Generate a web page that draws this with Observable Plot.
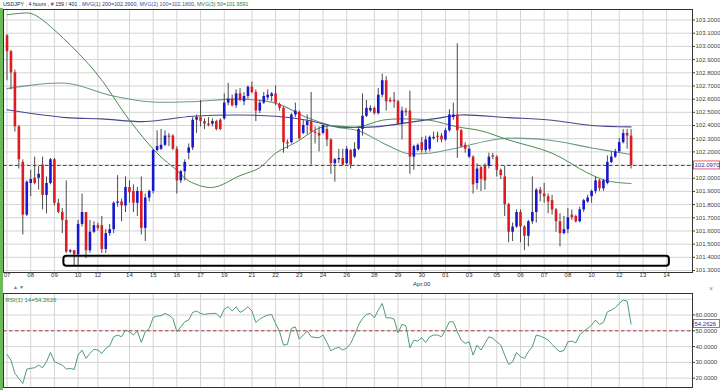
<!DOCTYPE html>
<html>
<head>
<meta charset="utf-8">
<script src="https://cdn.jsdelivr.net/npm/d3@7"></script>
<script src="https://cdn.jsdelivr.net/npm/@observablehq/plot@0.6"></script>
<style>
html,body{margin:0;padding:0;background:#fff;}
#root{position:relative;width:720px;height:390px;overflow:hidden;background:#fff;font-family:"Liberation Sans",Arial,sans-serif;}
#title{position:absolute;left:3px;top:0;height:9px;font-size:5.35px;line-height:8px;white-space:nowrap;color:#1c2340;}
#main{position:absolute;left:0;top:9px;}
#rsi{position:absolute;left:0;top:290px;}
#gbar{position:absolute;left:0;top:8px;width:2.5px;height:382px;background:#6cba5a;}
#arrows{position:absolute;left:13px;top:284px;font-size:5px;line-height:6px;color:#6b7280;letter-spacing:1px}
#close{position:absolute;left:709px;top:285px;font-size:7px;line-height:7px;color:#888}
</style>
</head>
<body>
<div id="root">
<div id="title"><span>USDJPY , 4 hours , # 159 / 401 , </span><span style="color:#2d3a9a">MVG(1) 200=102.3900</span><span>, </span><span style="color:#3552a8">MVG(2) 100=102.1800</span><span>, </span><span style="color:#2f7d3a">MVG(3) 50=101.9591</span></div>
<div id="main"></div>
<div id="rsi"></div>
<div id="gbar"></div>
<div id="arrows">▲▼</div>
<div id="close">×</div>
</div>
<script>
// ---- OHLC (4-hour bars, index 0..158) ----
const opens = [103.08,102.96,102.80,102.39,102.12,101.72,101.96,102.00,102.00,102.10,
101.87,101.96,102.14,101.81,101.74,101.68,101.44,101.45,101.42,101.65,
101.74,101.45,101.59,101.64,101.64,101.46,101.58,101.61,101.81,101.82,
101.79,101.93,101.90,101.81,101.90,101.62,101.85,101.90,102.21,102.22,
102.25,102.32,102.32,102.22,101.98,102.05,102.19,102.23,102.44,102.46,
102.43,102.41,102.41,102.43,102.44,102.45,102.57,102.60,102.55,102.64,
102.58,102.62,102.69,102.65,102.51,102.57,102.61,102.62,102.64,102.56,
102.53,102.27,102.27,102.48,102.50,102.34,102.40,102.43,102.35,102.34,
102.34,102.37,102.29,102.11,102.14,102.15,102.11,102.21,102.16,102.22,
102.37,102.47,102.51,102.53,102.49,102.63,102.74,102.59,102.59,102.58,
102.41,102.51,102.51,102.16,102.21,102.27,102.21,102.22,102.30,102.32,
102.32,102.29,102.36,102.46,102.48,102.36,102.25,102.16,102.16,101.96,
102.08,102.09,102.09,102.17,102.16,102.06,102.01,101.80,101.59,101.63,
101.74,101.63,101.56,101.67,101.74,101.91,101.88,101.86,101.83,101.76,
101.67,101.58,101.61,101.72,101.71,101.67,101.76,101.82,101.86,101.90,
101.98,101.92,101.96,102.12,102.16,102.20,102.27,102.34,102.32];
const highs = [103.09,102.97,102.82,102.40,102.14,101.98,102.06,102.16,102.09,102.16,
102.01,102.15,102.15,101.84,101.77,101.98,101.46,101.45,101.68,101.88,
101.74,101.68,101.67,101.66,101.71,101.61,101.65,101.82,102.02,101.84,
102.01,101.98,101.95,101.93,102.01,101.88,101.91,102.22,102.36,102.37,
102.36,102.34,102.33,102.24,102.06,102.14,102.26,102.46,102.48,102.59,
102.45,102.46,102.45,102.44,102.45,102.64,102.72,102.63,102.67,102.68,
102.65,102.70,102.73,102.67,102.59,102.65,102.67,102.65,102.70,102.57,
102.54,102.29,102.49,102.57,102.51,102.44,102.48,102.65,102.39,102.39,
102.41,102.40,102.30,102.15,102.22,102.22,102.24,102.22,102.27,102.39,
102.64,102.59,102.55,102.54,102.68,102.79,102.77,102.61,102.65,102.59,
102.54,102.53,102.66,102.25,102.26,102.31,102.32,102.32,102.35,102.35,
102.34,102.38,102.52,102.57,103.02,102.37,102.27,102.24,102.17,102.11,
102.09,102.11,102.19,102.19,102.17,102.07,102.09,101.81,101.66,101.76,
101.76,101.64,101.68,102.01,101.92,101.93,101.96,101.88,101.87,101.77,
101.73,101.71,101.77,101.76,101.72,101.78,101.84,101.87,101.91,102.01,
101.99,101.99,102.17,102.20,102.22,102.30,102.37,102.37,102.37];
const lows = [102.74,102.67,102.35,102.07,101.57,101.71,101.86,101.95,101.91,101.76,
101.73,101.95,101.79,101.73,101.58,101.43,101.43,101.33,101.34,101.63,
101.39,101.43,101.58,101.60,101.43,101.43,101.56,101.58,101.78,101.67,
101.74,101.81,101.74,101.71,101.57,101.52,101.82,101.88,102.20,102.21,
102.24,102.24,102.21,101.88,101.96,101.98,102.14,102.21,102.34,102.39,
102.37,102.39,102.39,102.36,102.36,102.44,102.55,102.54,102.53,102.58,
102.55,102.60,102.64,102.43,102.49,102.56,102.59,102.58,102.55,102.51,
102.19,102.22,102.26,102.46,102.29,102.33,102.33,102.10,102.26,102.20,
102.33,102.24,102.03,101.97,102.11,102.09,102.10,102.07,102.15,102.21,
102.32,102.46,102.50,102.48,102.48,102.61,102.51,102.57,102.53,102.40,
102.29,102.47,102.03,102.06,102.20,102.19,102.19,102.20,102.29,102.27,
102.27,102.28,102.35,102.44,102.15,102.23,102.19,102.15,101.88,101.91,
101.90,101.91,102.07,102.14,102.01,101.99,101.71,101.51,101.52,101.62,
101.51,101.45,101.48,101.65,101.66,101.82,101.81,101.73,101.72,101.59,
101.48,101.57,101.58,101.68,101.66,101.66,101.74,101.81,101.81,101.88,
101.90,101.90,101.95,102.11,102.15,102.19,102.26,102.22,102.07];
const closes = [102.96,102.80,102.39,102.14,101.72,101.97,101.99,101.96,102.03,101.87,
101.96,102.14,101.81,101.74,101.68,101.44,101.45,101.42,101.65,101.74,
101.45,101.59,101.64,101.62,101.46,101.58,101.61,101.81,101.82,101.79,
101.93,101.89,101.81,101.90,101.62,101.85,101.90,102.21,102.24,102.25,
102.32,102.31,102.22,101.98,102.05,102.12,102.23,102.44,102.46,102.43,
102.41,102.40,102.43,102.37,102.37,102.57,102.60,102.55,102.64,102.59,
102.62,102.69,102.65,102.51,102.57,102.62,102.63,102.64,102.57,102.53,
102.27,102.26,102.48,102.51,102.30,102.40,102.43,102.35,102.34,102.32,
102.40,102.29,102.11,102.14,102.15,102.10,102.22,102.10,102.22,102.37,
102.47,102.53,102.53,102.49,102.63,102.74,102.58,102.58,102.58,102.41,
102.51,102.50,102.16,102.24,102.25,102.21,102.29,102.31,102.31,102.31,
102.29,102.36,102.48,102.48,102.36,102.24,102.22,102.22,101.95,102.07,
101.99,101.98,102.16,102.16,102.06,102.02,101.80,101.59,101.63,101.74,
101.63,101.56,101.67,101.74,101.91,101.88,101.86,101.82,101.76,101.67,
101.58,101.61,101.70,101.70,101.67,101.76,101.83,101.85,101.90,101.98,
101.92,101.98,102.12,102.16,102.20,102.27,102.34,102.32,102.097];

// ---- moving averages, read at sample bars ----
const ma200Idx = [0,15,24,35,47,59,68,76,84,93,101,110,115,127,138,148,158];
const ma200Val = [102.52,102.46,102.45,102.43,102.47,102.48,102.47,102.44,102.39,102.39,102.42,102.46,102.48,102.46,102.44,102.40,102.39];
const ma100Idx = [0,15,26,36,46,59,68,76,83,89,95,101,107,114,125,137,148,158];
const ma100Val = [102.68,102.72,102.63,102.58,102.58,102.60,102.57,102.46,102.39,102.36,102.27,102.19,102.19,102.23,102.30,102.29,102.23,102.18];
const ma50Idx = [0,3,6,9,22,31,38,43,46,52,59,64,68,73,80,89,95,100,107,114,120,127,138,147,152,158];
const ma50Val = [103.24,103.25,103.25,103.20,102.82,102.44,102.19,102.06,101.98,101.93,102.02,102.08,102.19,102.27,102.39,102.39,102.44,102.45,102.44,102.39,102.36,102.29,102.19,102.04,101.98,101.96];

// ---- RSI(14) ----
const rsi = [35.0,31.4,23.0,19.8,16.7,25.7,26.2,26.6,28.3,26.6,
30.4,36.3,30.4,29.3,28.3,25.7,26.2,25.5,34.6,37.8,
32.5,35.7,38.4,37.8,35.7,38.8,40.5,46.2,47.3,46.2,
50.4,49.4,47.3,49.8,42.6,49.4,51.5,58.4,59.3,59.5,
61.0,59.9,57.8,49.4,52.5,55.7,56.8,61.6,62.5,61.0,
60.3,60.8,61.0,61.0,58.2,63.7,65.2,62.5,65.2,61.6,
63.1,65.2,62.5,55.3,57.4,58.9,59.9,60.3,54.6,49.4,
40.9,41.4,51.5,52.5,44.7,47.3,49.8,46.2,45.8,45.6,
47.3,42.6,37.3,38.8,39.5,37.8,39.0,42.0,47.3,53.6,
57.8,60.3,61.0,58.2,63.1,67.3,58.2,58.2,57.4,48.7,
54.0,53.2,39.2,44.1,43.5,45.6,42.6,46.2,47.3,47.3,
46.2,50.4,55.7,55.7,49.4,44.1,42.0,43.0,34.6,40.9,
37.8,42.0,46.2,45.2,43.0,40.9,34.6,28.7,30.4,36.3,
33.6,32.5,36.7,39.9,47.3,46.6,45.6,44.1,41.4,38.8,
36.7,37.6,43.0,43.5,42.4,47.3,49.8,51.5,53.6,56.8,
54.0,55.3,62.0,63.1,64.6,67.3,69.4,68.8,54.2626];

// ---- axes ----
const dayLabels = ["07","08","09","10","12","14","15","16","17","19","21","22","23","24","26","28","29","30","01","03","05","06","07","08","10","12","13","14"];
const dayBars = [0,6,12,18,23,31,37,43,49,55,62,68,74,80,86,93,99,105,111,117,124,130,136,142,148,155,161,167];
const monthMarks = [{i: 105, label: "Apr.00"}];
const priceTicks = [101.3,101.4,101.5,101.6,101.7,101.8,101.9,102.0,102.1,102.2,102.3,102.4,102.5,102.6,102.7,102.8,102.9,103.0,103.1,103.2];
const rsiTicks = [20,30,40,50,60];
const rsiGrid = [20,30,40,50,60,70];
const rsiMid = 50;
// annotation box drawn on the chart (bar range, price range)
const boxZone = [{from: 14.4, to: 167.7, low: 101.333, high: 101.408}];

const bars = closes.map((c, i) => ({i, o: opens[i], h: highs[i], l: lows[i], c}));
const up = bars.filter(d => d.c > d.o);
const down = bars.filter(d => d.c <= d.o);
const days = dayBars.map((i, k) => ({i, label: dayLabels[k]}));
const pts = (idx, val) => idx.map((i, k) => ({i, v: val[k]}));
const lastClose = closes[closes.length - 1];
const lastRsi = rsi[rsi.length - 1];

const X_DOMAIN = [-0.89, 173.55];
const W = 720, ML = 3, MR = 28;
const style = {fontFamily: '"Liberation Sans", Arial, sans-serif', fontSize: "6px", background: "transparent", overflow: "visible", color: "#333"};
const gridColor = "#d4d4d4";

const main = Plot.plot({
  width: W, height: 281, marginLeft: ML, marginRight: MR, marginTop: 0, marginBottom: 18,
  x: {domain: X_DOMAIN, axis: null},
  y: {domain: [101.285, 103.28], axis: null},
  style,
  marks: [
    Plot.gridY(priceTicks, {stroke: gridColor, strokeOpacity: 1}),
    Plot.gridX(dayBars, {stroke: gridColor, strokeOpacity: 1}),
    Plot.ruleY([lastClose], {stroke: "#3d3d8f", strokeDasharray: "3.5,2.5"}),
    Plot.line(pts(ma100Idx, ma100Val), {x: "i", y: "v", curve: "catmull-rom", stroke: "#6f9696", strokeWidth: 1.1}),
    Plot.line(pts(ma200Idx, ma200Val), {x: "i", y: "v", curve: "catmull-rom", stroke: "#46468f", strokeWidth: 1.1}),
    Plot.line(pts(ma50Idx, ma50Val), {x: "i", y: "v", curve: "catmull-rom", stroke: "#4f8a4f", strokeWidth: 1}),
    Plot.ruleX(bars, {x: "i", y1: "l", y2: "h", stroke: "#4b4b4b", strokeWidth: 1}),
    Plot.ruleX(up, {x: "i", y1: "o", y2: "c", stroke: "#1717cf", strokeWidth: 2.6}),
    Plot.ruleX(down, {x: "i", y1: "o", y2: "c", stroke: "#e01b1f", strokeWidth: 2.6}),
    Plot.rect(boxZone, {x1: "from", x2: "to", y1: "low", y2: "high", rx: 3, fill: "none", stroke: "#000", strokeWidth: 2}),
    Plot.frame({stroke: "#333"}),
    Plot.axisY(priceTicks, {anchor: "right", tickSize: 2, tickPadding: 1, tickFormat: d => d.toFixed(4), color: "#444"}),
    Plot.text(days, {x: "i", text: "label", frameAnchor: "bottom", dy: 4, fill: "#333"}),
    Plot.text(monthMarks, {x: "i", text: "label", frameAnchor: "bottom", dy: 13, fill: "#333"})
  ]
});

const rsiPlot = Plot.plot({
  width: W, height: 100, marginLeft: ML, marginRight: MR, marginTop: 3, marginBottom: 3,
  x: {domain: X_DOMAIN, axis: null},
  y: {domain: [14.1, 73.6], axis: null},
  style,
  marks: [
    Plot.gridY(rsiGrid, {stroke: gridColor, strokeOpacity: 1}),
    Plot.gridX(dayBars, {stroke: gridColor, strokeOpacity: 1}),
    Plot.ruleY([rsiMid], {stroke: "#b23a3a", strokeDasharray: "3.5,2.5"}),
    Plot.line(rsi, {x: (d, i) => i, y: d => d, stroke: "#4f9a7c", strokeWidth: 1}),
    Plot.frame({stroke: "#333"}),
    Plot.axisY(rsiTicks, {anchor: "right", tickSize: 2, tickPadding: 1, tickFormat: d => d.toFixed(4), color: "#444"}),
    Plot.text([`RSI(1) 14=${lastRsi.toFixed(4)}`], {frameAnchor: "top-left", dx: 2, dy: 4, fill: "#2f8a4a"})
  ]
});

document.getElementById("main").append(main);
document.getElementById("rsi").append(rsiPlot);

function boxLabel(plot, value, txt) {
  const ys = plot.scale("y"), xs = plot.scale("x");
  const xr = xs.range[1];
  const yv = ys.apply(value);
  const svg = d3.select(plot);
  svg.append("rect").attr("x", xr + 1.5).attr("y", yv - 4).attr("width", 26).attr("height", 8)
    .attr("fill", "#fff").attr("stroke", "#d23a3a").attr("stroke-width", 0.8);
  svg.append("text").attr("x", xr + 2.5).attr("y", yv).attr("dy", "0.35em")
    .attr("text-anchor", "start").attr("font-size", 6).attr("fill", "#2a2aa0").text(txt);
}
boxLabel(main, lastClose, lastClose.toFixed(4));
boxLabel(rsiPlot, lastRsi, lastRsi.toFixed(4));
</script>
</body>
</html>
